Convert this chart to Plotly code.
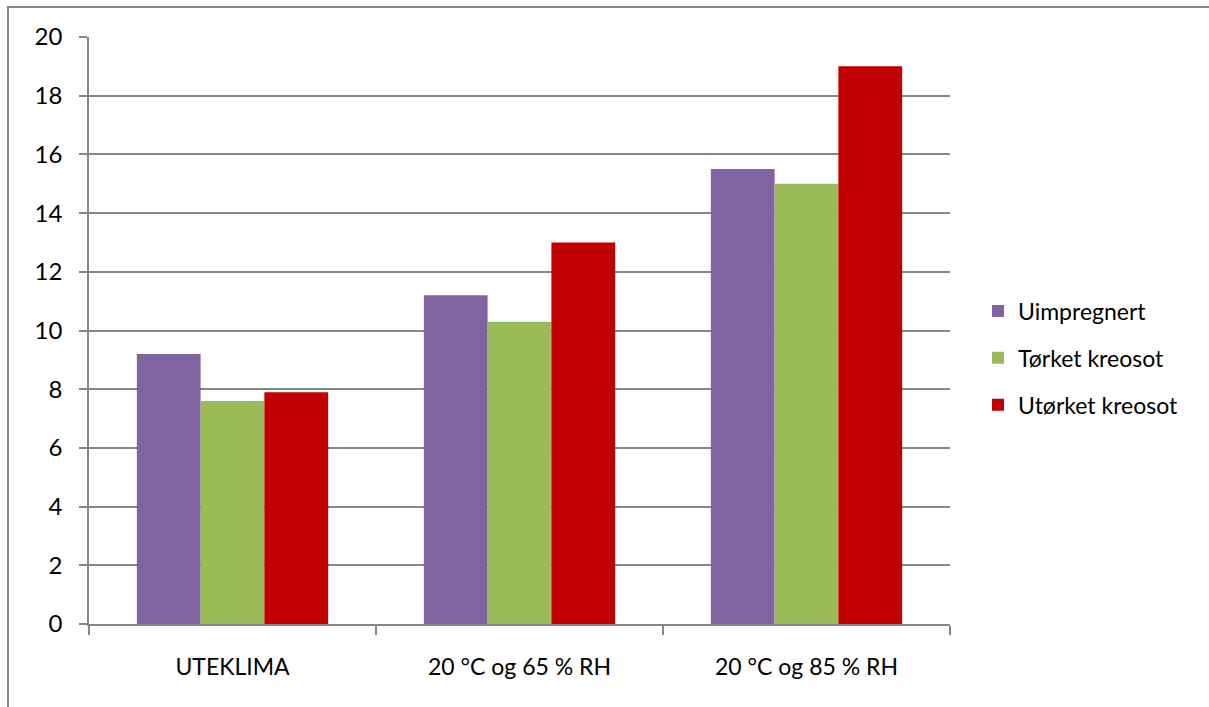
import plotly.graph_objects as go

categories = ["UTEKLIMA", "20 °C og 65 % RH", "20 °C og 85 % RH"]
uimpregnert = [9.2, 11.2, 15.5]
torket_kreosot = [7.6, 10.3, 15.0]
utorket_kreosot = [7.9, 13.0, 19.0]

series = [
    ("Uimpregnert", uimpregnert, "#8064A2"),
    ("Tørket kreosot", torket_kreosot, "#9BBB59"),
    ("Utørket kreosot", utorket_kreosot, "#C00000"),
]

FONT = "Lato"
GREY = "#868686"

fig = go.Figure()
for i, (name, vals, color) in enumerate(series):
    fig.add_trace(go.Bar(
        x=categories, y=vals, name=name,
        marker=dict(color=color, line=dict(width=0)),
        legendgroup=f"g{i}",
    ))

W, H = 1209, 707
L, R, T, B = 89, 259, 37, 83
pw, ph = W - L - R, H - T - B

fig.update_layout(
    width=W, height=H,
    margin=dict(l=L, r=R, t=T, b=B),
    paper_bgcolor="white", plot_bgcolor="white",
    barmode="group", bargap=1.5 / 4.5, bargroupgap=0,
    font=dict(family=FONT, size=23, color="black"),
    legend=dict(
        x=(978 - L) / pw, y=(H - B - 358) / ph,
        xanchor="left", yanchor="middle",
        font=dict(family=FONT, size=23, color="black"),
        itemwidth=30,
        tracegroupgap=14, bgcolor="rgba(0,0,0,0)",
    ),
    xaxis=dict(
        type="category", tickson="boundaries",
        ticks="outside", ticklen=9, tickcolor=GREY, tickwidth=1.5,
        showline=True, linecolor=GREY, linewidth=1.5,
        showgrid=False, range=[-0.5, 2.5],
        tickfont=dict(family=FONT, size=23),
        ticklabelstandoff=22,
    ),
    yaxis=dict(
        range=[0, 20], dtick=2,
        ticks="outside", ticklen=8, tickcolor=GREY, tickwidth=1.5,
        showline=True, linecolor=GREY, linewidth=1.5,
        showgrid=True, gridcolor=GREY, gridwidth=1.5,
        zeroline=False, tickfont=dict(family=FONT, size=24),
        ticklabelstandoff=12,
    ),
    shapes=[dict(
        type="rect", xref="paper", yref="paper",
        x0=(8 - L) / pw, x1=(W + 20 - L) / pw,
        y0=-(B + 20) / ph, y1=(H - B - 7) / ph,
        line=dict(color=GREY, width=2), fillcolor="rgba(0,0,0,0)",
        layer="below",
    )],
)

fig.write_html("out.html")
